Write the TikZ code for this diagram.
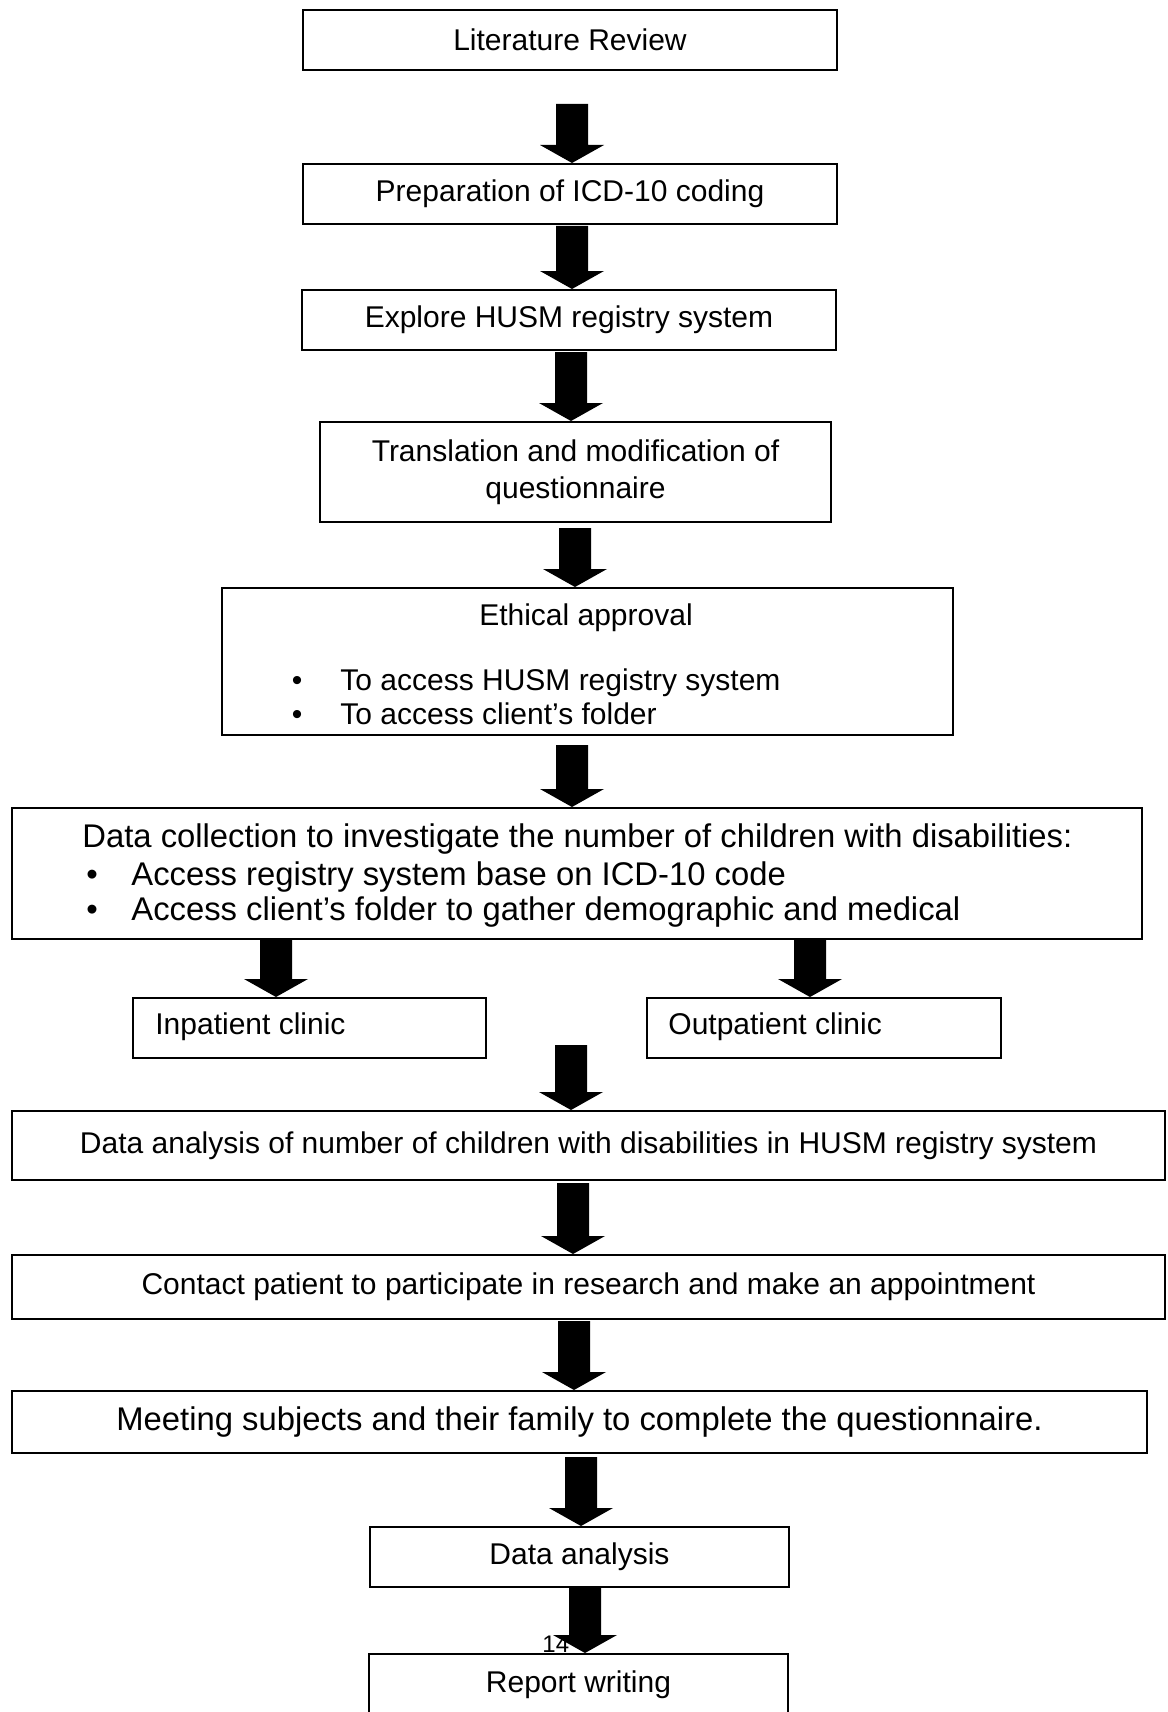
\documentclass[tikz,border=0pt]{standalone}
\usepackage{fontspec}
\setmainfont{Liberation Sans}
\usetikzlibrary{calc}
\begin{document}
\begin{tikzpicture}[x=0.5pt,y=-0.5pt,
  box/.style={draw, line width=1pt, rectangle, anchor=north west, inner sep=0pt,
    font=\fontsize{15pt}{18.5pt}\selectfont, align=center},
  txt/.style={inner sep=0pt, anchor=base west, font=\fontsize{15pt}{18pt}\selectfont},
  bigtxt/.style={inner sep=0pt, anchor=base west, font=\fontsize{16.4pt}{19pt}\selectfont},
  blk/.style={fill=black, to path={let \p1=(\tikztostart), \p2=(\tikztotarget) in
    (\x1-8pt,\y1) -- (\x1+8pt,\y1) -- (\x1+8pt,\y2+9pt) -- (\x1+16pt,\y2+9pt) --
    (\x1,\y2) -- (\x1-16pt,\y2+9pt) -- (\x1-8pt,\y2+9pt) -- cycle}}
]
\useasboundingbox (0,0) rectangle (1167,1712);

% boxes
\node[box, minimum width=267pt, minimum height=30pt] (lit) at (302,9) {Literature Review};
\node[box, minimum width=267pt, minimum height=30pt] (prep) at (302,163) {Preparation of ICD-10 coding};
\node[box, minimum width=267pt, minimum height=30pt] (expl) at (301,289) {Explore HUSM registry system};
\node[box, minimum width=255.5pt, minimum height=50pt] (trans) at (319,421) {Translation and modification of\\questionnaire};
\node[box, minimum width=365.5pt, minimum height=73.5pt] (eth) at (221,587) {};
\node[box, minimum width=565pt, minimum height=65.5pt] (coll) at (11,807) {};
\node[box, minimum width=176.5pt, minimum height=30pt] (inp) at (132,997) {};
\node[box, minimum width=177pt, minimum height=30pt] (outp) at (646,997) {};
\node[box, minimum width=576.5pt, minimum height=34.5pt] (ana1) at (11,1110) {Data analysis of number of children with disabilities in HUSM registry system};
\node[box, minimum width=576.5pt, minimum height=32pt] (cont) at (11,1254) {Contact patient to participate in research and make an appointment};
\node[box, minimum width=567.5pt, minimum height=31pt, font=\fontsize{16.4pt}{19pt}\selectfont] (meet) at (11,1390) {Meeting subjects and their family to complete the questionnaire.};
\node[box, minimum width=209.5pt, minimum height=30pt] (ana2) at (369,1526) {Data analysis};
\node[box, minimum width=209.5pt, minimum height=31pt] (rep) at (368,1653) {Report writing};

% texts inside composite boxes
\node[txt, anchor=base] (ethT) at (586,625) {Ethical approval};
\node[txt, anchor=base] (ethB1) at (297,690) {\textbullet};
\node[txt] (ethL1) at (340,690) {To access HUSM registry system};
\node[txt, anchor=base] (ethB2) at (297,724) {\textbullet};
\node[txt] (ethL2) at (340,724) {To access client’s folder};

\node[bigtxt] (collT) at (82,847) {Data collection to investigate the number of children with disabilities:};
\node[bigtxt, anchor=base] (collB1) at (92,885) {\textbullet};
\node[bigtxt] (collL1) at (131,885) {Access registry system base on ICD-10 code};
\node[bigtxt, anchor=base] (collB2) at (92,920) {\textbullet};
\node[bigtxt] (collL2) at (131,920) {Access client’s folder to gather demographic and medical};

\node[txt] (inpT) at (155,1034) {Inpatient clinic};
\node[txt] (outpT) at (668,1034) {Outpatient clinic};

% page number
\node[inner sep=0pt, anchor=base west, font=\fontsize{12pt}{14pt}\selectfont] (pg) at (542,1652) {14};

% arrow start points
\coordinate (s1) at (572,104);
\coordinate (s2) at (572,226);
\coordinate (s3) at (571,352);
\coordinate (s4) at (575,528);
\coordinate (s5) at (572,745);
\coordinate (s6a) at (276,938);
\coordinate (s6b) at (810,938);
\coordinate (s7) at (571,1045);
\coordinate (s8) at (573,1183);
\coordinate (s9) at (574,1321);
\coordinate (s10) at (581,1457);
\coordinate (s11) at (585,1586);

\path[blk] (s1) to (s1 |- prep.north);
\path[blk] (s2) to (s2 |- expl.north);
\path[blk] (s3) to (s3 |- trans.north);
\path[blk] (s4) to (s4 |- eth.north);
\path[blk] (s5) to (s5 |- coll.north);
\path[blk] (s6a) to (s6a |- inp.north);
\path[blk] (s6b) to (s6b |- outp.north);
\path[blk] (s7) to (s7 |- ana1.north);
\path[blk] (s8) to (s8 |- cont.north);
\path[blk] (s9) to (s9 |- meet.north);
\path[blk] (s10) to (s10 |- ana2.north);
\path[blk] (s11) to (s11 |- rep.north);
\end{tikzpicture}
\end{document}
